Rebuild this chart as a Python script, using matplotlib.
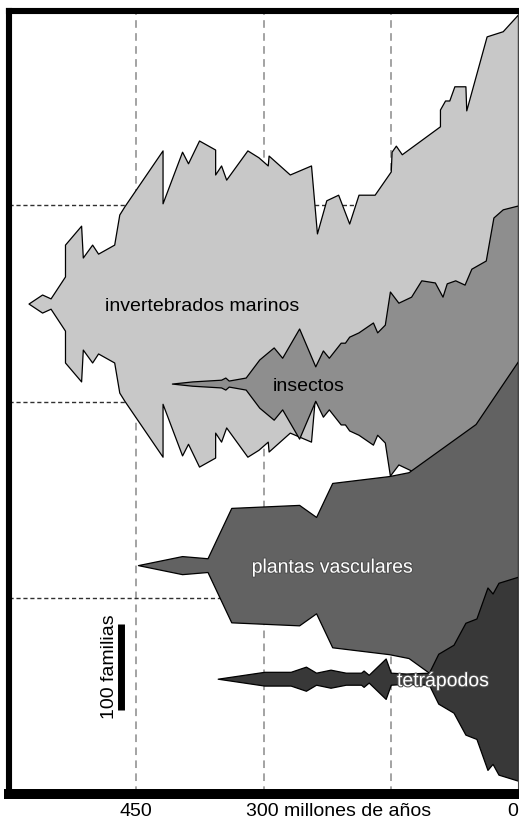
import matplotlib
matplotlib.use("Agg")
import matplotlib.pyplot as plt
import matplotlib.patheffects as pe
from matplotlib.transforms import offset_copy

plt.rcParams['font.family'] = ['Liberation Sans', 'DejaVu Sans']

# ages in millions of years (oldest -> youngest), counts = number of families (spindle width)
invAges = [577, 561, 551, 534, 534, 515, 513, 502, 495, 476, 470, 464, 419, 419, 396, 389, 376, 357, 357, 350,
           344, 319, 306, 295, 294, 269, 244, 237, 226, 212, 199, 188, 169, 150, 149, 144, 137, 92, 92, 86,
           81, 75, 62, 61, 37, 18, 0]
invCounts = [0, 21, 12, 63, 137, 181, 107, 137, 116, 137, 207, 226, 356, 233, 353, 326, 379, 358, 300, 321,
             288, 356, 340, 321, 344, 300, 321, 163, 240, 253, 186, 253, 253, 307, 353, 367, 347, 412, 451, 472,
             472, 505, 505, 449, 621, 633, 672]

insAges = [408, 384, 350, 345, 341, 321, 305, 288, 278, 258, 239, 230, 223, 209, 204, 199, 188, 171, 166, 157,
           151, 141, 126, 114, 98, 89, 84, 74, 63, 55, 38, 29, 18, 0]
insCounts = [0, 5, 9, 14, 7, 14, 56, 84, 60, 128, 40, 77, 60, 95, 95, 109, 119, 142, 119, 137,
             214, 188, 202, 240, 235, 202, 233, 240, 230, 267, 286, 386, 405, 414]

plaAges = [448, 396, 366, 338, 258, 238, 219, 152, 129, 50, 0]
plaCounts = [0, 21, 16, 133, 140, 112, 191, 207, 216, 328, 474]

tetAges = [354, 299, 268, 250, 238, 221, 203, 185, 182, 176, 156, 150, 132, 105, 94, 76, 62, 49, 36, 30, 23, 0]
tetCounts = [0, 16, 16, 28, 14, 21, 14, 14, 19, 9, 47, 14, 12, 14, 58, 79, 130, 140, 212, 198, 223, 237]

groups = ["invertebrados marinos", "insectos", "plantas vasculares", "tetrápodos"]
centers = [570, 477, 266, 134]
colors = ["#c8c8c8", "#8e8e8e", "#626262", "#383838"]
labelAges = [372, 247, 218, 88]
labelColors = ["black", "black", "white", "white"]

gridAges = [450, 300, 150]
gridFam = [228, 456, 685]

fig = plt.figure(figsize=(5.19, 8.22), dpi=100)
ax = fig.add_axes([9 / 519, 28 / 822, 509 / 519, 783 / 822])
ax.set_xlim(600, 0)
ax.set_ylim(0, 910)

for a in gridAges:
    ax.axvline(a, color="#8a8a8a", ls=(0, (5, 3.5)), lw=1.1, zorder=0.5)
for f in gridFam:
    ax.axhline(f, color="#303030", ls=(0, (3, 2)), lw=1.0, zorder=0.5)

series = [(invAges, invCounts), (insAges, insCounts), (plaAges, plaCounts), (tetAges, tetCounts)]
for i, (ages, counts) in enumerate(series):
    c = centers[i]
    lower = [c - n / 2 for n in counts]
    upper = [c + n / 2 for n in counts]
    ax.fill_between(ages, lower, upper, facecolor=colors[i], edgecolor="black", lw=0.9, zorder=2 + i)

# labels sit a few pixels below the spindle axis
labelTrans = offset_copy(ax.transData, fig=fig, x=0, y=-3, units="dots")
for i, name in enumerate(groups):
    t = ax.text(labelAges[i], centers[i], name, ha="center", va="center", fontsize=14,
                color=labelColors[i], transform=labelTrans, zorder=10)
    if labelColors[i] == "white":
        t.set_path_effects([pe.withStroke(linewidth=1.5, foreground="#505050")])

# scale bar: 100 families
ax.plot([468, 468], [98, 198], color="black", lw=5, solid_capstyle="butt", zorder=10)
ax.text(481, 148, "100 familias", rotation=90, ha="center", va="center", fontsize=14, zorder=10)

# frame
ax.spines["left"].set_linewidth(4.4)
ax.spines["top"].set_linewidth(4.4)
ax.spines["bottom"].set_linewidth(7.2)
ax.spines["right"].set_linewidth(0.8)
ax.spines["right"].set_color("#444444")
for s in ax.spines.values():
    s.set_zorder(20)

ax.set_xticks([])
ax.yaxis.tick_right()
ax.set_yticks(gridFam)
ax.set_yticklabels([])
ax.tick_params(axis="y", direction="in", length=3, width=0.8, color="#444444")

trans = ax.get_xaxis_transform()
ax.text(450, -0.022, "450", transform=trans, ha="center", va="center", fontsize=14)
ax.text(300, -0.022, "300 millones de años", transform=offset_copy(trans, fig=fig, x=-17, y=0, units="dots"),
        ha="left", va="center", fontsize=14)
ax.text(0, -0.022, "0", transform=trans, ha="right", va="center", fontsize=14)

plt.savefig("out.png", dpi=100)
